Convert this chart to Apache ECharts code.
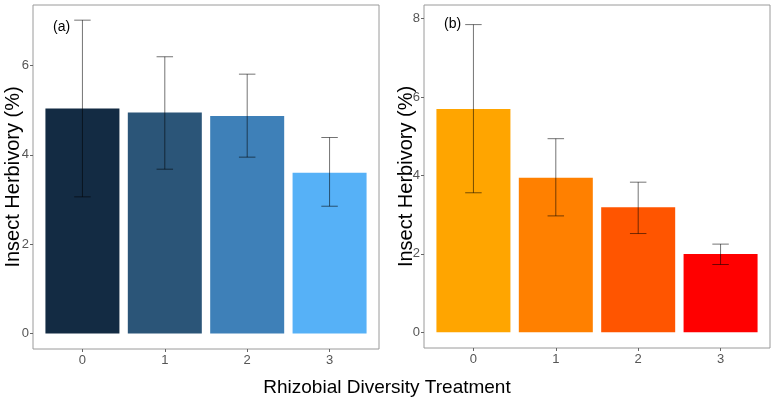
<!DOCTYPE html>
<html lang="en">
<head>
    <meta charset="UTF-8">
    <title>Insect Herbivory</title>
    <style>
        html, body { margin: 0; padding: 0; background: #fff; }
        #chart { width: 774px; height: 398px; }
    </style>
</head>
<body>
    <div id="chart"></div>
    <script src="https://cdn.jsdelivr.net/npm/echarts@6/dist/echarts.min.js"></script>
    <script>
        // treatment levels (x axis)
        var treatments = [0, 1, 2, 3];

        // panel (a)
        var meanA = [5.04, 4.95, 4.87, 3.60];
        var lowA  = [3.06, 3.68, 3.95, 2.85];
        var highA = [7.02, 6.20, 5.81, 4.39];
        var colorsA = ['#132B43', '#2B5578', '#3E80B8', '#56B1F7'];
        var ticksA = [0, 2, 4, 6];

        // panel (b)
        var meanB = [5.70, 3.94, 3.19, 2.00];
        var lowB  = [3.56, 2.97, 2.52, 1.73];
        var highB = [7.85, 4.94, 3.83, 2.25];
        var colorsB = ['#FFA500', '#FF8000', '#FF5500', '#FF0000'];
        var ticksB = [0, 2, 4, 6, 8];

        var chart = echarts.init(document.getElementById('chart'));
        var font = 'Liberation Sans, Arial, sans-serif';

        function barData(means, colors) {
            return treatments.map(function (t, i) {
                return { value: [t, means[i]], itemStyle: { color: colors[i] } };
            });
        }
        function errData(low, high) {
            return treatments.map(function (t, i) { return [t, low[i], high[i]]; });
        }
        function renderErr(params, api) {
            var x = api.value(0);
            var lo = api.coord([x, api.value(1)]);
            var hi = api.coord([x, api.value(2)]);
            var half = api.size([0.1, 0])[0];
            var st = { stroke: 'rgba(0,0,0,0.55)', lineWidth: 1 };
            return {
                type: 'group',
                children: [
                    { type: 'line', shape: { x1: lo[0], y1: lo[1], x2: hi[0], y2: hi[1] }, style: st },
                    { type: 'line', shape: { x1: hi[0] - half, y1: hi[1], x2: hi[0] + half, y2: hi[1] }, style: st },
                    { type: 'line', shape: { x1: lo[0] - half, y1: lo[1], x2: lo[0] + half, y2: lo[1] }, style: st }
                ]
            };
        }
        function xAxis(idx) {
            return {
                type: 'value', gridIndex: idx, min: -0.6, max: 3.6, position: 'bottom',
                splitLine: { show: false },
                axisLine: { show: false, onZero: false },
                axisTick: { show: true, length: 3, lineStyle: { color: '#666' }, customValues: treatments },
                axisLabel: { customValues: treatments, color: '#555', fontSize: 13, fontFamily: font, margin: 5 }
            };
        }
        function yAxis(idx, min, max, ticks, gap) {
            return {
                type: 'value', gridIndex: idx, min: min, max: max, position: 'left',
                name: 'Insect Herbivory (%)', nameLocation: 'middle', nameGap: gap, nameMoveOverlap: false,
                nameTextStyle: { color: '#000', fontSize: 20, fontFamily: font },
                splitLine: { show: false },
                axisLine: { show: false, onZero: false },
                axisTick: { show: true, length: 3, lineStyle: { color: '#666' }, customValues: ticks },
                axisLabel: { customValues: ticks, color: '#555', fontSize: 13, fontFamily: font, margin: 4 }
            };
        }

        var option = {
            animation: false,
            title: [
                { text: '(a)', left: 48, top: 15, textStyle: { fontSize: 14, fontWeight: 'normal', color: '#000', fontFamily: font } },
                { text: '(b)', left: 439, top: 12, textStyle: { fontSize: 14, fontWeight: 'normal', color: '#000', fontFamily: font } },
                { text: 'Rhizobial Diversity Treatment', left: 'center', top: 373,
                  textStyle: { fontSize: 19, fontWeight: 'normal', color: '#000', fontFamily: font } }
            ],
            grid: [
                { left: 33, top: 5, width: 346, height: 344, outerBoundsMode: 'none',
                  show: true, borderColor: '#9a9a9a', borderWidth: 1, backgroundColor: '#fff' },
                { left: 424, top: 5, width: 346, height: 343, outerBoundsMode: 'none',
                  show: true, borderColor: '#9a9a9a', borderWidth: 1, backgroundColor: '#fff' }
            ],
            xAxis: [xAxis(0), xAxis(1)],
            yAxis: [yAxis(0, -0.35, 7.36, ticksA, 10), yAxis(1, -0.40, 8.35, ticksB, 8)],
            series: [
                { type: 'bar', xAxisIndex: 0, yAxisIndex: 0, barWidth: 74, data: barData(meanA, colorsA) },
                { type: 'custom', xAxisIndex: 0, yAxisIndex: 0, renderItem: renderErr, data: errData(lowA, highA), z: 5 },
                { type: 'bar', xAxisIndex: 1, yAxisIndex: 1, barWidth: 74, data: barData(meanB, colorsB) },
                { type: 'custom', xAxisIndex: 1, yAxisIndex: 1, renderItem: renderErr, data: errData(lowB, highB), z: 5 }
            ]
        };
        chart.setOption(option);
    </script>
</body>
</html>
